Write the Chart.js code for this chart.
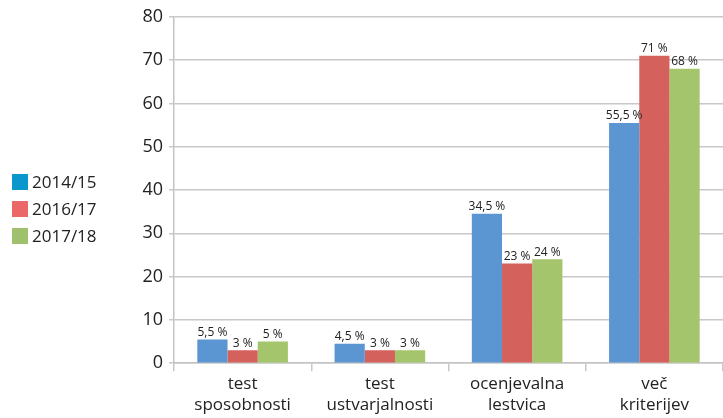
<!DOCTYPE html>
<html>
<head>
<meta charset="utf-8">
<script src="https://cdn.jsdelivr.net/npm/chart.js@4"></script>
<style>
  body { margin: 0; background: #fff; }
  #wrap { position: relative; width: 723px; height: 418px; }
  #legend { position: absolute; left: 12px; top: 170px; font-family: "Open Sans", sans-serif; font-size: 17px; color: #222; }
  #legend div { height: 27px; line-height: 24px; white-space: nowrap; }
  #legend span { display: inline-block; width: 16px; height: 16px; margin-right: 4px; vertical-align: -2px; }
</style>
</head>
<body>
<div id="wrap">
  <canvas id="chart" width="723" height="418"></canvas>
  <div id="legend"></div>
</div>
<script>
// categories (two-line labels)
const categories = [
    ["test", "sposobnosti"],
    ["test", "ustvarjalnosti"],
    ["ocenjevalna", "lestvica"],
    ["več", "kriterijev"]
]
const seriesNames = ["2014/15", "2016/17", "2017/18"]
const values1415 = [5.5, 4.5, 34.5, 55.5]
const values1617 = [3, 3, 23, 71]
const values1718 = [5, 3, 24, 68]
const valueLabels = [
    ["5,5 %", "4,5 %", "34,5 %", "55,5 %"],
    ["3 %", "3 %", "23 %", "71 %"],
    ["5 %", "3 %", "24 %", "68 %"]
]
const yTicks = [0, 10, 20, 30, 40, 50, 60, 70, 80]

let barColors = ["#5b95d2", "#d5615c", "#a4c56b"]
let legendColors = ["#0a97cb", "#eb6868", "#9fc16d"]

// html legend
const legendEl = document.getElementById('legend')
seriesNames.forEach((name, i) => {
    const row = document.createElement('div')
    row.innerHTML = '<span style="background:' + legendColors[i] + '"></span>' + name
    legendEl.appendChild(row)
})

// draws the value labels above the bars
const valueLabelPlugin = {
    id: 'valueLabels',
    afterDatasetsDraw(chart) {
        const ctx = chart.ctx
        ctx.save()
        ctx.font = '12px "Open Sans", sans-serif'
        ctx.fillStyle = '#222'
        ctx.textAlign = 'center'
        ctx.textBaseline = 'bottom'
        chart.data.datasets.forEach((ds, di) => {
            chart.getDatasetMeta(di).data.forEach((bar, i) => {
                ctx.fillText(valueLabels[di][i], bar.x, bar.y - 1)
            })
        })
        ctx.restore()
    }
}

const ctx = document.getElementById('chart').getContext('2d')

new Chart(ctx, {
    type: 'bar',
    data: {
        labels: categories,
        datasets: seriesNames.map((name, i) => ({
            label: name,
            data: [values1415, values1617, values1718][i],
            backgroundColor: barColors[i],
            borderWidth: 0,
            categoryPercentage: 0.66,
            barPercentage: 1
        }))
    },
    options: {
        responsive: false,
        animation: false,
        layout: { padding: { left: 110, top: 13, right: 0, bottom: 0 } },
        scales: {
            y: {
                min: 0,
                max: 80,
                afterBuildTicks: (scale) => { scale.ticks = yTicks.map(v => ({ value: v })) },
                afterFit: (scale) => { scale.width = 64 },
                border: { color: '#c4c4c4', width: 1.5 },
                grid: { color: '#c8c8c8', lineWidth: 1.5, tickLength: 5 },
                ticks: {
                    color: '#222',
                    padding: 6,
                    font: { family: '"Open Sans", sans-serif', size: 18 }
                }
            },
            x: {
                border: { color: '#c4c4c4', width: 1.5 },
                grid: { display: true, drawOnChartArea: false, drawTicks: true, tickLength: 8, color: '#c8c8c8', lineWidth: 1.5 },
                ticks: {
                    color: '#222',
                    padding: 3,
                    maxRotation: 0,
                    font: { family: '"Open Sans", sans-serif', size: 17, lineHeight: 1.2 }
                }
            }
        },
        plugins: {
            legend: { display: false },
            tooltip: { enabled: false }
        }
    },
    plugins: [valueLabelPlugin]
})
</script>
</body>
</html>
